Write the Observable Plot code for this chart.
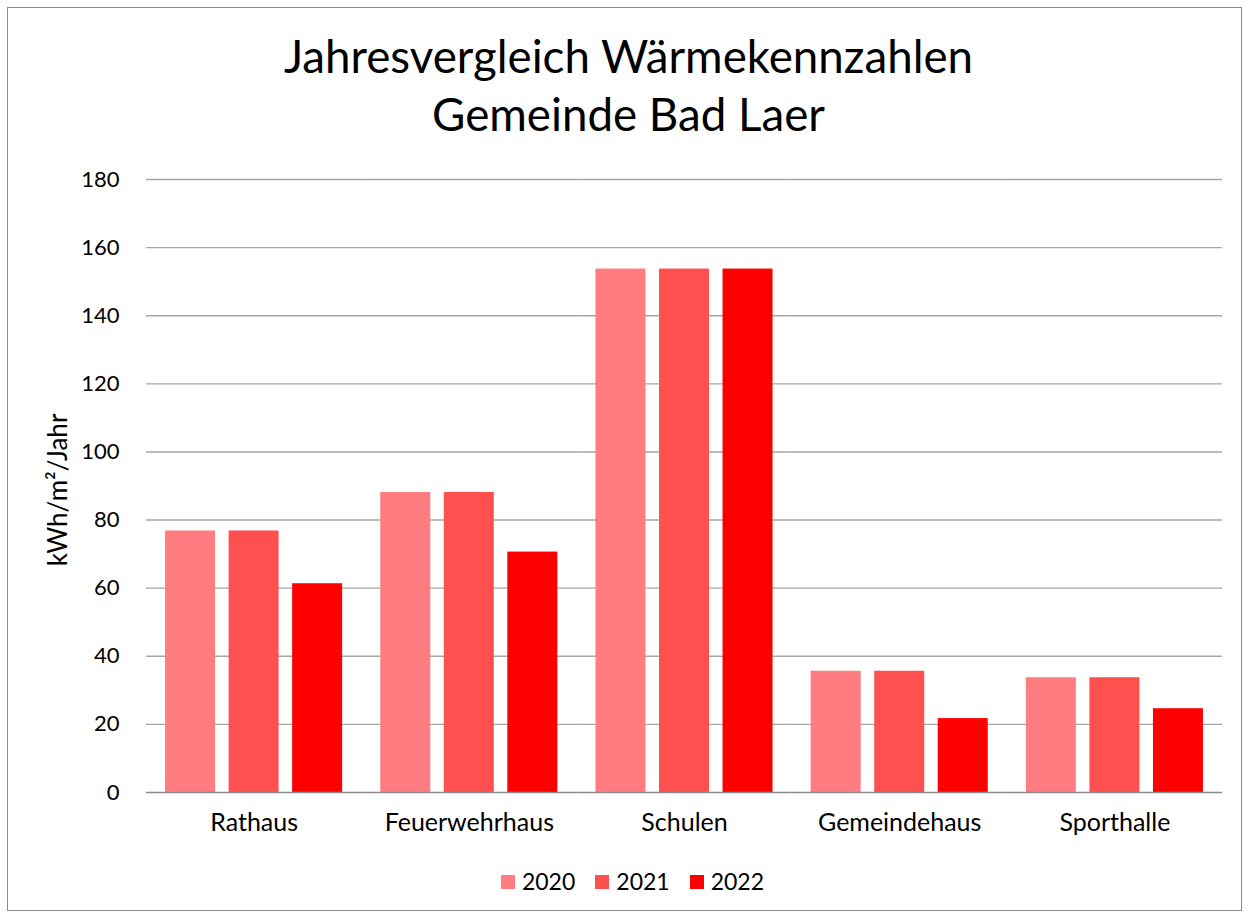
<!DOCTYPE html>
<html>
<head>
<meta charset="utf-8">
<script src="https://cdn.jsdelivr.net/npm/d3@7"></script>
<script src="https://cdn.jsdelivr.net/npm/@observablehq/plot@0.6"></script>
<style>
  html, body { margin: 0; padding: 0; background: #fff; }
  body { width: 1248px; height: 917px; position: relative; overflow: hidden; font-family: Lato, "Open Sans", sans-serif; color: #000; }
  #frame { position: absolute; left: 7px; top: 7px; width: 1235px; height: 904px; border: 1px solid #8c8c8c; box-sizing: border-box; }
  #title { position: absolute; left: 0; top: 27px; width: 1257px; text-align: center; font-size: 45.7px; line-height: 58px; font-weight: 400; color: #000; }
  #chart { position: absolute; left: 0; top: 150px; }
  #chart g[aria-label="fx-axis tick label"], #chart g[aria-label="fx-axis tick label"] text { font-size: 25px; }
  #ylabel { position: absolute; left: 57px; top: 490px; transform: translate(-50%, -50%) rotate(-90deg); white-space: nowrap; font-size: 26px; line-height: 26px; }
  #legend { position: absolute; left: 0; top: 866px; width: 1265px; text-align: center; font-size: 23px; line-height: 30px; }
  #legend span.item { display: inline-block; margin: 0 10px; }
  #legend span.sw { display: inline-block; width: 14px; height: 14px; margin-right: 7px; vertical-align: 1px; }
</style>
</head>
<body>
<div id="frame"></div>
<div id="title">Jahresvergleich Wärmekennzahlen<br>Gemeinde Bad Laer</div>
<div id="chart"></div>
<div id="ylabel"></div>
<div id="legend"></div>
<script>
const categories = ["Rathaus", "Feuerwehrhaus", "Schulen", "Gemeindehaus", "Sporthalle"];
const years = ["2020", "2021", "2022"];
const values2020 = [76.8, 88.1, 153.7, 35.6, 33.7];
const values2021 = [76.8, 88.1, 153.7, 35.6, 33.7];
const values2022 = [61.3, 70.6, 153.7, 21.7, 24.6];
const colors = ["#FF7C80", "#FF5050", "#FF0000"];
const yTicks = [0, 20, 40, 60, 80, 100, 120, 140, 160, 180];
const yLabel = "kWh/m²/Jahr";

const series = [values2020, values2021, values2022];
const data = [];
categories.forEach((c, i) => years.forEach((y, j) => data.push({cat: c, year: y, value: series[j][i]})));

const chart = Plot.plot({
  width: 1248,
  height: 700,
  marginLeft: 146,
  marginRight: 26,
  marginTop: 29,
  marginBottom: 58,
  style: {fontFamily: "Lato, 'Open Sans', sans-serif", fontSize: "22px", color: "#000", background: "transparent"},
  fx: {domain: categories, padding: 0, round: false, label: null, axis: "bottom", tickSize: 0, tickPadding: 21},
  x: {domain: years, paddingInner: 0.213, paddingOuter: 0.3, round: false, axis: null},
  y: {domain: [0, 180], ticks: yTicks, tickSize: 0, tickPadding: 27, label: null},
  color: {domain: years, range: colors},
  marks: [
    Plot.ruleY(yTicks.filter(d => d > 0), {stroke: "#a6a6a6", strokeWidth: 1.4}),
    Plot.barY(data, {fx: "cat", x: "year", y: "value", fill: "year"}),
    Plot.ruleY([0], {stroke: "#8c8c8c", strokeWidth: 1.4})
  ]
});
document.getElementById("chart").appendChild(chart);
document.getElementById("ylabel").textContent = yLabel;

const legend = document.getElementById("legend");
years.forEach((y, i) => {
  const item = document.createElement("span");
  item.className = "item";
  const sw = document.createElement("span");
  sw.className = "sw";
  sw.style.background = colors[i];
  item.appendChild(sw);
  item.appendChild(document.createTextNode(y));
  legend.appendChild(item);
});
</script>
</body>
</html>
